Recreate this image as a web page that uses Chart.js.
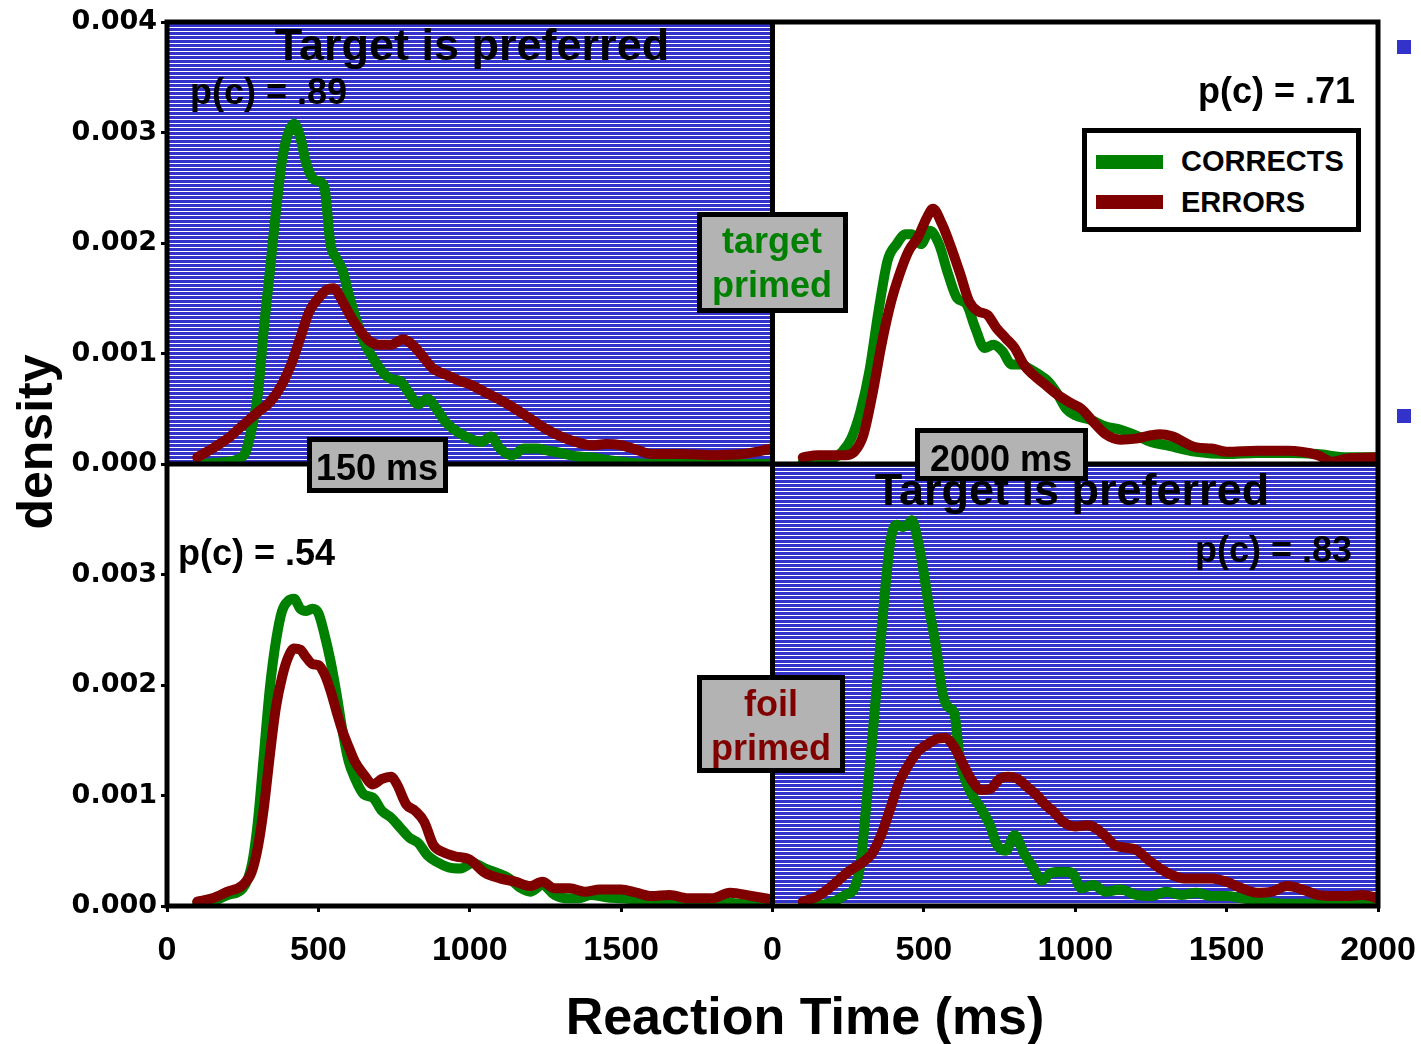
<!DOCTYPE html>
<html>
<head>
<meta charset="utf-8">
<script src="https://cdn.jsdelivr.net/npm/chart.js@4.4.1/dist/chart.umd.min.js"></script>
<style>
html,body{margin:0;padding:0;background:#fff;}
#wrap{position:relative;width:1421px;height:1044px;overflow:hidden;background:#fff;}
#c{position:absolute;left:0;top:0;width:1421px;height:1044px;}
.t{position:absolute;font-family:'Liberation Sans',Arial,sans-serif;font-weight:bold;line-height:1;white-space:nowrap;color:#000;}
.box{position:absolute;box-sizing:border-box;border:5px solid #000;background:#b3b3b3;}
</style>
</head>
<body>
<div id="wrap"><canvas id="c" width="1421" height="1044"></canvas></div>
<script>
// ---------------- DATA ----------------
const X_TICKS = [0, 500, 1000, 1500, 2000];
const X_TICK_LABELS = ['0', '500', '1000', '1500', '2000'];
const Y_TICKS = [0, 0.001, 0.002, 0.003, 0.004];
const Y_TICK_LABELS = ['0.000', '0.001', '0.002', '0.003', '0.004'];
const LEGEND_LABELS = ['CORRECTS', 'ERRORS'];

// Top-left: 150 ms, target primed
const TL_C_RT = [100,200,240,260,280,300,320,340,360,380,400,420,440,460,480,500,520,540,560,580,600,620,650,680,710,740,770,800,830,860,890,920,960,1000,1040,1070,1100,1140,1180,1220,1260,1300,1350,1400,1500,1600,1700,1800,1900,2000];
const TL_C_D  = [0,0.00002,0.00005,0.00011,0.00032,0.00063,0.00123,0.00175,0.00229,0.00275,0.00299,0.00308,0.00296,0.00272,0.00259,0.00256,0.00250,0.00199,0.00186,0.00175,0.00154,0.00135,0.00111,0.00096,0.00084,0.00077,0.00075,0.00064,0.00054,0.00059,0.00050,0.00038,0.00029,0.00023,0.00020,0.00025,0.00014,0.00008,0.00014,0.00014,0.00012,0.00010,0.00007,0.00006,0.00002,0,0,0,0,0];
const TL_E_RT = [100,150,200,250,300,340,380,410,440,470,500,530,550,580,610,640,670,700,740,780,810,840,880,920,960,1000,1050,1100,1150,1200,1250,1300,1350,1400,1450,1500,1550,1600,1700,1800,1900,2000];
const TL_E_D  = [0.00006,0.00014,0.00023,0.00035,0.00047,0.00056,0.00072,0.00090,0.00114,0.00138,0.00150,0.00158,0.00159,0.00147,0.00132,0.00120,0.00111,0.00108,0.00108,0.00113,0.00108,0.00099,0.00086,0.00081,0.00076,0.00072,0.00065,0.00058,0.00050,0.00041,0.00032,0.00025,0.00020,0.00017,0.00018,0.00017,0.00013,0.00009,0.00009,0.00008,0.00009,0.00014];

// Top-right: 2000 ms, target primed
const TR_C_RT = [100,150,200,230,260,290,320,350,380,410,440,460,490,520,550,580,610,640,670,700,730,760,790,820,850,880,910,940,970,1000,1050,1100,1150,1200,1250,1300,1400,1500,1600,1700,1800,1900,2000];
const TR_C_D  = [0.00002,0.00003,0.00005,0.00011,0.00023,0.00047,0.00084,0.00138,0.00184,0.00199,0.00208,0.00208,0.00199,0.00211,0.00199,0.00172,0.00150,0.00145,0.00123,0.00105,0.00108,0.00102,0.00090,0.00090,0.00086,0.00081,0.00075,0.00064,0.00050,0.00044,0.00040,0.00034,0.00031,0.00026,0.00020,0.00017,0.00011,0.00009,0.00010,0.00010,0.00009,0.00006,0.00006];
const TR_E_RT = [100,150,200,240,270,300,330,360,390,420,450,480,510,530,560,590,620,650,680,710,740,770,800,830,860,900,940,980,1020,1060,1100,1150,1200,1250,1280,1320,1400,1450,1500,1600,1700,1800,1850,1900,2000];
const TR_E_D  = [0.00006,0.00008,0.00008,0.00008,0.00011,0.00026,0.00063,0.00108,0.00145,0.00172,0.00193,0.00205,0.00223,0.00231,0.00217,0.00196,0.00172,0.00147,0.00138,0.00135,0.00123,0.00114,0.00105,0.00090,0.00081,0.00072,0.00063,0.00056,0.00050,0.00038,0.00027,0.00022,0.00023,0.00026,0.00027,0.00025,0.00015,0.00014,0.00011,0.00012,0.00012,0.00008,0.00002,0.00005,0.00006];

// Bottom-left: 150 ms, foil primed
const BL_C_RT = [100,150,200,250,280,300,320,340,360,380,400,420,440,460,480,500,520,540,560,580,600,620,650,680,710,740,770,800,830,860,890,930,970,1010,1050,1090,1130,1170,1200,1240,1280,1320,1360,1400,1450,1500,1600,1700,1800,1900,2000];
const BL_C_D  = [0.00003,0.00004,0.00010,0.00016,0.00037,0.00076,0.00137,0.00198,0.00240,0.00267,0.00276,0.00278,0.00269,0.00267,0.00269,0.00265,0.00246,0.00222,0.00192,0.00158,0.00131,0.00116,0.00101,0.00098,0.00086,0.00080,0.00071,0.00062,0.00057,0.00046,0.00040,0.00035,0.00034,0.00039,0.00034,0.00030,0.00025,0.00016,0.00013,0.00019,0.00010,0.00007,0.00007,0.00010,0.00008,0.00007,0.00005,0.00002,0.00005,0.00002,0.00002];
const BL_E_RT = [100,150,200,250,280,300,320,340,360,380,400,420,440,460,480,500,520,540,560,580,600,620,650,680,710,740,760,790,820,850,880,910,950,1000,1050,1100,1150,1200,1240,1280,1330,1380,1430,1500,1550,1600,1660,1720,1800,1860,1930,2000];
const BL_E_D  = [0.00004,0.00007,0.00013,0.00019,0.00031,0.00053,0.00089,0.00137,0.00180,0.00207,0.00225,0.00233,0.00232,0.00225,0.00219,0.00218,0.00210,0.00195,0.00176,0.00158,0.00144,0.00131,0.00119,0.00110,0.00115,0.00117,0.00110,0.00092,0.00086,0.00076,0.00055,0.00049,0.00045,0.00042,0.00030,0.00025,0.00022,0.00018,0.00022,0.00016,0.00016,0.00013,0.00015,0.00015,0.00012,0.00009,0.00010,0.00007,0.00007,0.00012,0.00009,0.00006];

// Bottom-right: 2000 ms, foil primed
const BR_C_RT = [100,150,180,210,240,270,290,310,330,350,370,390,410,430,450,460,480,500,520,540,560,580,600,620,640,660,680,700,720,740,770,800,830,860,890,920,960,990,1020,1060,1100,1150,1200,1250,1300,1350,1400,1450,1500,1550,1600,1700,1800,1900,2000];
const BR_C_D  = [0,0.00001,0.00002,0.00005,0.00010,0.00016,0.00037,0.00092,0.00153,0.00216,0.00280,0.00331,0.00345,0.00343,0.00346,0.00349,0.00331,0.00301,0.00265,0.00235,0.00195,0.00180,0.00175,0.00130,0.00112,0.00100,0.00092,0.00083,0.00072,0.00056,0.00050,0.00064,0.00048,0.00035,0.00023,0.00030,0.00031,0.00030,0.00016,0.00019,0.00013,0.00015,0.00010,0.00009,0.00013,0.00010,0.00012,0.00009,0.00009,0.00007,0.00005,0.00002,0.00002,0.00001,0.00002];
const BR_E_RT = [100,150,200,250,300,330,360,390,420,450,480,510,540,570,600,630,660,690,720,750,780,810,840,870,900,930,960,1000,1040,1070,1100,1130,1160,1200,1240,1280,1320,1360,1400,1450,1500,1550,1600,1650,1700,1750,1800,1850,1900,1950,2000];
const BR_E_D  = [0.00004,0.00009,0.00019,0.00031,0.00040,0.00048,0.00065,0.00089,0.00113,0.00128,0.00140,0.00146,0.00151,0.00152,0.00144,0.00128,0.00113,0.00105,0.00106,0.00115,0.00117,0.00115,0.00108,0.00101,0.00092,0.00085,0.00076,0.00072,0.00073,0.00070,0.00063,0.00055,0.00053,0.00051,0.00042,0.00034,0.00028,0.00025,0.00025,0.00025,0.00022,0.00016,0.00012,0.00013,0.00018,0.00015,0.00010,0.00009,0.00009,0.00010,0.00007];

// ---------------- STYLE ----------------
const GREEN = '#008000', RED = '#800000', BLUE = '#3333cc';
const FONT = "'Liberation Sans', Arial, sans-serif";
Chart.defaults.font.family = FONT;

function series(rt, d) { return rt.map((x, i) => ({x: x, y: d[i]})); }
const lineStyle = {borderWidth: 10, pointRadius: 0, pointHoverRadius: 0, fill: false,
  cubicInterpolationMode: 'monotone', borderJoinStyle: 'round', borderCapStyle: 'round'};

const panels = [
  {x: 'xL', y: 'yT', c: [TL_C_RT, TL_C_D], e: [TL_E_RT, TL_E_D]},
  {x: 'xR', y: 'yT', c: [TR_C_RT, TR_C_D], e: [TR_E_RT, TR_E_D]},
  {x: 'xL', y: 'yB', c: [BL_C_RT, BL_C_D], e: [BL_E_RT, BL_E_D]},
  {x: 'xR', y: 'yB', c: [BR_C_RT, BR_C_D], e: [BR_E_RT, BR_E_D]}
];
const datasets = [];
panels.forEach(p => {
  datasets.push(Object.assign({}, lineStyle, {label: LEGEND_LABELS[0], data: series(p.c[0], p.c[1]),
    xAxisID: p.x, yAxisID: p.y, borderColor: GREEN, order: 1}));
  datasets.push(Object.assign({}, lineStyle, {label: LEGEND_LABELS[1], data: series(p.e[0], p.e[1]),
    xAxisID: p.x, yAxisID: p.y, borderColor: RED, order: 0}));
});

const tickGrid = {display: true, drawOnChartArea: false, drawTicks: true, tickLength: 6, tickWidth: 3, tickColor: '#000', color: '#000'};

function zeroPad(s) { s.paddingLeft = 0; s.paddingRight = 0; s.paddingTop = 0; s.paddingBottom = 0; }
function yScale(w, hideTop) {
  return {type: 'linear', position: 'left', stack: 'left', stackWeight: 1, weight: w, min: 0, max: 0.004,
    afterFit: s => { s.width = 167; zeroPad(s); },
    afterBuildTicks: s => { s.ticks = Y_TICKS.map(v => ({value: v})); },
    ticks: {autoSkip: false, color: '#000', padding: 4,
      font: {family: "'DejaVu Sans', sans-serif", size: 27, weight: 'bold'},
      callback: (v, i) => (hideTop && i === Y_TICKS.length - 1) ? null : Y_TICK_LABELS[i]},
    grid: tickGrid, border: {display: false}};
}
function xScale(w, hideLast) {
  return {type: 'linear', position: 'bottom', stack: 'bottom', stackWeight: 1, weight: w, min: 0, max: 2000,
    afterFit: s => { s.height = 138; zeroPad(s); },
    afterBuildTicks: s => { s.ticks = X_TICKS.map(v => ({value: v})); },
    ticks: {autoSkip: false, maxRotation: 0, color: '#000', padding: 18,
      font: {family: FONT, size: 34, weight: 'bold'},
      callback: (v, i) => (hideLast && i === X_TICKS.length - 1) ? null : X_TICK_LABELS[i]},
    grid: tickGrid, border: {display: false}};
}

// stripe pattern for the "Target is preferred" panels
const pc = document.createElement('canvas');
pc.width = 4; pc.height = 4;
const pctx = pc.getContext('2d');
pctx.fillStyle = BLUE; pctx.fillRect(0, 0, 4, 4);
pctx.fillStyle = '#ffffff'; pctx.fillRect(0, 3, 4, 1);

const panelBg = {
  id: 'panelBg',
  beforeDatasetsDraw(chart) {
    const {ctx} = chart; const s = chart.scales;
    const pat = ctx.createPattern(pc, 'repeat');
    ctx.save();
    ctx.fillStyle = pat;
    ctx.fillRect(s.xL.left, s.yT.top, s.xL.right - s.xL.left, s.yT.bottom - s.yT.top);
    ctx.fillRect(s.xR.left, s.yB.top, s.xR.right - s.xR.left, s.yB.bottom - s.yB.top);
    ctx.restore();
  }
};
const frame = {
  id: 'frame',
  afterDatasetsDraw(chart) {
    const {ctx} = chart; const s = chart.scales;
    const L = s.xL.left, M = s.xL.right, R = s.xR.right, T = s.yT.top, H = s.yT.bottom, B = s.yB.bottom;
    ctx.save();
    ctx.strokeStyle = '#000'; ctx.lineWidth = 5; ctx.lineCap = 'square';
    ctx.beginPath();
    ctx.rect(L, T, R - L, B - T);
    ctx.moveTo(L, H); ctx.lineTo(R, H);
    ctx.moveTo(M, T); ctx.lineTo(M, B);
    ctx.stroke();
    ctx.restore();
  }
};

new Chart(document.getElementById('c'), {
  type: 'line',
  data: {datasets: datasets},
  options: {
    responsive: false, animation: false, devicePixelRatio: 1,
    layout: {padding: {left: 0, top: 22, right: 43, bottom: 0}},
    plugins: {legend: {display: false}, tooltip: {enabled: false}, title: {display: false}},
    scales: {
      yT: yScale(2, false),
      yB: yScale(1, true),
      xL: xScale(1, true),
      xR: xScale(2, false)
    }
  },
  plugins: [panelBg, frame]
});

// ---------------- TEXT OVERLAYS ----------------
const wrap = document.getElementById('wrap');
function addText(txt, x, base, fs, align, color) {
  const d = document.createElement('div');
  d.className = 't';
  d.textContent = txt;
  d.style.fontSize = fs + 'px';
  d.style.color = color || '#000';
  d.style.top = (base - 0.8465 * fs) + 'px';
  if (align === 'left') d.style.left = x + 'px';
  else if (align === 'right') d.style.right = (1421 - x) + 'px';
  else { d.style.left = (x - 400) + 'px'; d.style.width = '800px'; d.style.textAlign = 'center'; }
  wrap.appendChild(d);
  return d;
}
function addBox(l, t, w, h, bg) {
  const d = document.createElement('div');
  d.className = 'box';
  d.style.left = l + 'px'; d.style.top = t + 'px'; d.style.width = w + 'px'; d.style.height = h + 'px';
  if (bg) d.style.background = bg;
  wrap.appendChild(d);
}
function addRect(l, t, w, h, c) {
  const d = document.createElement('div');
  d.style.position = 'absolute';
  d.style.left = l + 'px'; d.style.top = t + 'px'; d.style.width = w + 'px'; d.style.height = h + 'px';
  d.style.background = c;
  wrap.appendChild(d);
}

addText('Target is preferred', 472, 60, 45, 'center');
addText('Target is preferred', 1072, 505, 45, 'center');
addText('p(c) = .89', 190, 104, 36, 'left');
addText('p(c) = .71', 1355, 103, 36, 'right');
addText('p(c) = .54', 178, 565, 36, 'left');
addText('p(c) = .83', 1352, 562, 36, 'right');

// condition boxes
addBox(697, 212, 151, 101);
addText('target', 772, 253, 36, 'center', GREEN);
addText('primed', 772, 297, 36, 'center', GREEN);
addBox(697, 675, 148, 98);
addText('foil', 771, 716, 36, 'center', RED);
addText('primed', 771, 760, 36, 'center', RED);
addBox(307, 437, 141, 56);
addText('150 ms', 377, 480, 36, 'center');
addBox(915, 428, 173, 53);
addText('2000 ms', 1001, 471, 36, 'center');

// legend
addBox(1082, 128, 279, 104, '#ffffff');
addRect(1096, 155, 67, 14, GREEN);
addRect(1096, 195, 67, 14, RED);
addText(LEGEND_LABELS[0], 1181, 172, 29, 'left');
addText(LEGEND_LABELS[1], 1181, 213, 29, 'left');

// small blue squares at the right edge
addRect(1397, 40, 14, 14, BLUE);
addRect(1397, 409, 14, 14, BLUE);

// axis titles
addText('Reaction Time (ms)', 805, 1034, 52, 'center');
const yt = document.createElement('div');
yt.className = 't';
yt.textContent = 'density';
yt.style.fontSize = '50px';
yt.style.width = '400px';
yt.style.textAlign = 'center';
yt.style.left = (35 - 200) + 'px';
yt.style.top = (442 - 25) + 'px';
yt.style.height = '50px';
yt.style.transform = 'rotate(-90deg)';
yt.style.transformOrigin = '50% 50%';
wrap.appendChild(yt);
</script>
</body>
</html>
